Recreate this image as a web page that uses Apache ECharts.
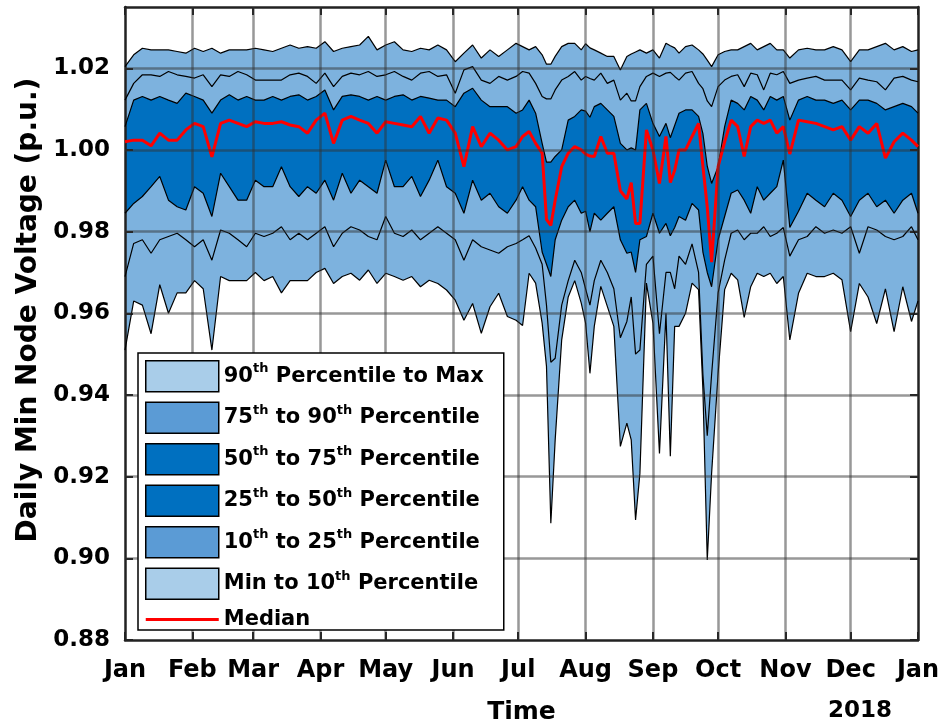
<!DOCTYPE html>
<html>
<head>
<meta charset="utf-8">
<title>Daily Min Node Voltage</title>
<script src="https://cdn.jsdelivr.net/npm/echarts@6/dist/echarts.min.js"></script>
<style>
  html, body { margin: 0; padding: 0; background: #fff; }
  #chart { width: 945px; height: 728px; }
</style>
</head>
<body>
<div id="chart"></div>
<script>
// day of year (0 = 1 Jan 2017), denser sampling in the Jul-Oct dips
const days = [
  0, 4, 8, 12, 16, 20, 24, 28, 32, 36, 40, 44, 48, 52, 56, 60, 64, 68, 72, 76, 80, 84, 88, 92,
  96, 100, 104, 108, 112, 116, 120, 124, 128, 132, 136, 140, 144, 148, 152, 156, 160, 164, 168, 172, 176, 180,
  183, 186, 189, 192, 194, 196, 198, 201, 204, 207, 210, 212, 214, 216, 219, 222, 225, 228, 231,
  233, 235, 237, 240, 243, 246, 249, 251, 253, 255, 258, 261, 264, 266, 268, 270,
  273, 276, 279, 282, 285, 288, 291, 294, 297, 300, 303,
  306, 310, 314, 318, 322, 326, 330, 334, 338, 342, 346, 350, 354, 358, 362, 365
];

const maxV = [
  1.0204, 1.0233, 1.0249, 1.0245, 1.0245, 1.0245, 1.0241, 1.0237, 1.0249, 1.0241, 1.0249, 1.0237, 1.0245, 1.0245, 1.0245, 1.0249, 1.0245, 1.0241, 1.0249, 1.0257, 1.0249, 1.0253, 1.0249, 1.0265,
  1.0241, 1.0249, 1.0253, 1.0257, 1.0278, 1.0245, 1.0257, 1.0265, 1.0245, 1.0241, 1.0249, 1.0245, 1.0257, 1.0245, 1.0216, 1.0237, 1.0257, 1.0225, 1.0245, 1.0229, 1.0245, 1.0261,
  1.0253, 1.0245, 1.0253, 1.0233, 1.021, 1.021, 1.0229, 1.0253, 1.0261, 1.0261, 1.0245, 1.026, 1.025, 1.0245, 1.0237, 1.0229, 1.0229, 1.0196, 1.0229,
  1.0235, 1.024, 1.0245, 1.0237, 1.0245, 1.0225, 1.0261, 1.0255, 1.025, 1.0237, 1.0253, 1.0257, 1.0245, 1.0235, 1.022, 1.0204,
  1.0233, 1.0241, 1.0245, 1.0245, 1.0253, 1.0261, 1.0245, 1.0253, 1.0261, 1.0245, 1.0245,
  1.0225, 1.0245, 1.0249, 1.0245, 1.0245, 1.0253, 1.0245, 1.0216, 1.0245, 1.0245, 1.0253, 1.0261, 1.0245, 1.0253, 1.0241, 1.0245
];

const p90V = [
  1.0122, 1.0163, 1.0184, 1.0184, 1.018, 1.0192, 1.0184, 1.018, 1.0176, 1.0184, 1.0155, 1.0184, 1.018, 1.0192, 1.0184, 1.0171, 1.0171, 1.0171, 1.0171, 1.0184, 1.0188, 1.018, 1.0163, 1.0188,
  1.0155, 1.018, 1.0188, 1.0184, 1.0192, 1.018, 1.0184, 1.0192, 1.018, 1.0171, 1.0188, 1.0192, 1.018, 1.0184, 1.0139, 1.0196, 1.0204, 1.0171, 1.0163, 1.018, 1.0171, 1.018,
  1.0192, 1.0188, 1.0163, 1.0131, 1.0125, 1.0125, 1.0147, 1.0171, 1.018, 1.0192, 1.0171, 1.018, 1.0175, 1.0171, 1.0188, 1.0163, 1.0171, 1.0122, 1.0139,
  1.012, 1.012, 1.0155, 1.018, 1.0188, 1.018, 1.0188, 1.019, 1.018, 1.0171, 1.0188, 1.0192, 1.0163, 1.015, 1.012, 1.0106,
  1.0155, 1.0171, 1.018, 1.0184, 1.0155, 1.0188, 1.0184, 1.0147, 1.0188, 1.0184, 1.0192,
  1.0163, 1.0171, 1.0176, 1.018, 1.0171, 1.0171, 1.0171, 1.0147, 1.0176, 1.0171, 1.0167, 1.0147, 1.0176, 1.018, 1.0171, 1.0167
];

const p75V = [
  1.0057, 1.0122, 1.0131, 1.0122, 1.0131, 1.0122, 1.0114, 1.0139, 1.0131, 1.0122, 1.009, 1.0122, 1.0135, 1.0122, 1.0131, 1.0122, 1.0122, 1.0131, 1.0122, 1.0131, 1.0135, 1.0122, 1.0131, 1.0147,
  1.0098, 1.0131, 1.0135, 1.0131, 1.0122, 1.0131, 1.0122, 1.0131, 1.0135, 1.0122, 1.0131, 1.0127, 1.0122, 1.0122, 1.0106, 1.0139, 1.0151, 1.0122, 1.0106, 1.0106, 1.0106, 1.009,
  1.0098, 1.0122, 1.009, 1.0016, 0.997, 0.997, 0.9984, 1.0, 1.0073, 1.0082, 1.0098, 1.0095, 1.008, 1.0106, 1.0114, 1.0098, 1.0082, 1.0016, 1.0,
  1.0005, 1.0, 1.0098, 1.0114, 1.0065, 1.0033, 1.0065, 1.003, 1.006, 1.009, 1.0098, 1.0098, 1.0082, 1.004, 0.996, 0.9918,
  0.9959, 1.0057, 1.0122, 1.0114, 1.0098, 1.0131, 1.0122, 1.0098, 1.0131, 1.0122, 1.0131,
  1.0073, 1.0122, 1.0131, 1.0122, 1.0122, 1.0114, 1.0122, 1.0098, 1.0122, 1.0122, 1.0114, 1.0098, 1.0106, 1.0114, 1.0106, 1.009
];

const medianV = [
  1.002, 1.0024, 1.0024, 1.001, 1.0041, 1.0024, 1.0024, 1.0049, 1.0065, 1.0057, 0.9983, 1.0065, 1.0073, 1.0065, 1.0057, 1.0069, 1.0065, 1.0065, 1.0069, 1.0061, 1.0057, 1.0041, 1.0073, 1.009,
  1.0016, 1.0073, 1.0082, 1.0073, 1.0065, 1.0041, 1.0069, 1.0065, 1.0061, 1.0057, 1.0082, 1.0041, 1.0078, 1.0073, 1.0041, 0.9959, 1.0057, 1.0008, 1.0041, 1.0024, 1.0, 1.0008,
  1.0033, 1.0045, 1.0016, 0.9992, 0.983, 0.9815, 0.9877, 0.9959, 0.9992, 1.0008, 1.0, 0.999, 0.9985, 0.9984, 1.0033, 0.9992, 0.9992, 0.99, 0.988,
  0.992, 0.982, 0.982, 1.0049, 1.0, 0.9918, 1.0033, 0.992, 0.995, 1.0, 1.0, 1.0033, 1.0065, 0.996, 0.986, 0.9725,
  0.9959, 1.002, 1.0073, 1.0057, 0.9984, 1.0057, 1.0073, 1.0065, 1.0073, 1.0041, 1.0057,
  0.999, 1.0073, 1.0069, 1.0065, 1.0057, 1.0049, 1.0057, 1.0024, 1.0057, 1.0041, 1.0065, 0.998, 1.002, 1.0041, 1.0024, 1.0008
];

const p25V = [
  0.9845, 0.9869, 0.9886, 0.991, 0.9935, 0.9877, 0.9861, 0.9853, 0.991, 0.9894, 0.9837, 0.9943, 0.991, 0.9877, 0.9877, 0.9926, 0.991, 0.991, 0.9959, 0.991, 0.9886, 0.991, 0.9894, 0.9926,
  0.9877, 0.9943, 0.9894, 0.9926, 0.991, 0.9894, 0.9975, 0.991, 0.991, 0.9935, 0.9886, 0.9926, 0.9975, 0.991, 0.9894, 0.9845, 0.9926, 0.9877, 0.9894, 0.9861, 0.9845, 0.9877,
  0.991, 0.9877, 0.9861, 0.975, 0.972, 0.969, 0.978, 0.9828, 0.9861, 0.9877, 0.9845, 0.985, 0.98, 0.9845, 0.9828, 0.9845, 0.9861, 0.978, 0.9747,
  0.975, 0.97, 0.978, 0.9788, 0.9845, 0.9796, 0.982, 0.979, 0.981, 0.9837, 0.9828, 0.9869, 0.9853, 0.975, 0.97, 0.9665,
  0.978, 0.9837, 0.9894, 0.9902, 0.9877, 0.9845, 0.991, 0.9877, 0.9894, 0.991, 0.9975,
  0.981, 0.985, 0.9894, 0.9877, 0.9861, 0.9894, 0.9877, 0.9837, 0.9877, 0.9894, 0.9861, 0.9877, 0.9845, 0.9877, 0.9894, 0.9845
];

const p10V = [
  0.969, 0.9771, 0.978, 0.9747, 0.978, 0.9788, 0.9796, 0.978, 0.9763, 0.978, 0.973, 0.9804, 0.9796, 0.978, 0.9763, 0.9796, 0.9788, 0.9796, 0.9812, 0.978, 0.9796, 0.978, 0.9796, 0.9812,
  0.9763, 0.9796, 0.9812, 0.9804, 0.9788, 0.978, 0.9837, 0.9796, 0.9788, 0.9804, 0.978, 0.9796, 0.9812, 0.9796, 0.978, 0.973, 0.978, 0.9763, 0.9755, 0.9747, 0.9763, 0.9771,
  0.978, 0.979, 0.976, 0.972, 0.962, 0.948, 0.949, 0.962, 0.968, 0.973, 0.97, 0.966, 0.962, 0.968, 0.973, 0.97, 0.966, 0.954, 0.958,
  0.964, 0.95, 0.951, 0.972, 0.974, 0.955, 0.97, 0.97, 0.966, 0.974, 0.972, 0.977, 0.97, 0.945, 0.93, 0.945,
  0.965, 0.973, 0.9796, 0.9804, 0.978, 0.9796, 0.9796, 0.9812, 0.9788, 0.9796, 0.981,
  0.974, 0.978, 0.9788, 0.9812, 0.9796, 0.9804, 0.9796, 0.9812, 0.9747, 0.9812, 0.9804, 0.9788, 0.978, 0.9788, 0.9812, 0.978
];

const minV = [
  0.951, 0.963, 0.962, 0.955, 0.967, 0.96, 0.965, 0.965, 0.968, 0.966, 0.951, 0.969, 0.968, 0.968, 0.968, 0.97, 0.968, 0.969, 0.965, 0.968, 0.968, 0.968, 0.97, 0.971,
  0.9673, 0.969, 0.9698, 0.9681, 0.9706, 0.9673, 0.9698, 0.969, 0.9681, 0.969, 0.9665, 0.9681, 0.9673, 0.9657, 0.9632, 0.9583, 0.9624, 0.9551, 0.9616, 0.9649, 0.9592, 0.9583,
  0.957, 0.9698, 0.9674, 0.9576, 0.947, 0.9086, 0.929, 0.9535, 0.964, 0.968, 0.9625, 0.9576, 0.9453, 0.9568, 0.9666, 0.9617, 0.9568, 0.9274, 0.9331,
  0.929, 0.9094, 0.9208, 0.9674, 0.9576, 0.9257, 0.96, 0.925, 0.9568, 0.9568, 0.96, 0.9674, 0.9658, 0.9413, 0.8996, 0.9208,
  0.9453, 0.9658, 0.9698, 0.9682, 0.959, 0.9665, 0.9698, 0.969, 0.9698, 0.9673, 0.969,
  0.9535, 0.9649, 0.9698, 0.969, 0.969, 0.9698, 0.9682, 0.9555, 0.9673, 0.964, 0.9575, 0.966, 0.9555, 0.9665, 0.958, 0.963
];

const monthStarts = [0, 31, 59, 90, 120, 151, 181, 212, 243, 273, 304, 334, 365];
const monthLabels = ['Jan', 'Feb', 'Mar', 'Apr', 'May', 'Jun', 'Jul', 'Aug', 'Sep', 'Oct', 'Nov', 'Dec', 'Jan'];
const yTicks = [0.88, 0.90, 0.92, 0.94, 0.96, 0.98, 1.00, 1.02];

const legendNames = [
  '90th Percentile to Max',
  '75th to 90th Percentile',
  '50th to 75th Percentile',
  '25th to 50th Percentile',
  '10th to 25th Percentile',
  'Min to 10th Percentile',
  'Median'
];
const legendColors = ['#a9cde9', '#5b9bd5', '#0070c0', '#0070c0', '#5b9bd5', '#a9cde9'];

const FONT = 'DejaVu Sans';
const LIGHT = '#7db2de';
const DARK = '#0070c0';
const GRID_LINE = { color: 'rgba(50, 50, 50, 0.5)', width: 2.5, type: 'solid' };
const AXIS_LINE = { color: '#222', width: 2.5 };

function pairs(vals) {
  return days.map((d, i) => [d, vals[i]]);
}

// "90th ..." -> rich text with a superscript "th"
function richName(name) {
  const parts = name.split(/(\d+)th/);
  let out = '';
  parts.forEach((p, i) => {
    if (!p) return;
    out += i % 2 === 1 ? '{b|' + p + '}{s|th}' : '{b|' + p + '}';
  });
  return out;
}

function band(name, vals, fill) {
  const s = {
    name: name,
    type: 'line',
    data: pairs(vals),
    symbol: 'none',
    silent: true,
    lineStyle: { color: '#000', width: 1.2 },
    itemStyle: { color: fill || '#000' }
  };
  if (fill) s.areaStyle = { color: fill, opacity: 1, origin: 'start' };
  return s;
}

const legendData = legendNames.map((n, i) => {
  if (i < legendColors.length) {
    return { name: n, icon: 'rect', itemStyle: { color: legendColors[i], borderColor: '#000', borderWidth: 1.5 } };
  }
  // thin red bar for the median line
  return { name: n, icon: 'path://M0,0 H73 V3 H0 Z', itemStyle: { color: '#ff0000', borderWidth: 0 } };
});

// grid drawn above the bands, as in the original figure
const gridMarks = monthStarts.slice(1, -1).map(v => ({ xAxis: v }))
  .concat(yTicks.slice(1).map(v => ({ yAxis: v })));

const labelFont = { fontFamily: FONT, fontWeight: 'bold', color: '#000' };

const chart = echarts.init(document.getElementById('chart'));

const option = {
  animation: false,
  backgroundColor: '#fff',
  grid: { left: 125, right: 27, top: 7, bottom: 88, containLabel: false, outerBoundsMode: 'none' },
  legend: {
    orient: 'vertical',
    left: 138,
    top: 353,
    itemWidth: 73,
    itemHeight: 31,
    itemGap: 9,
    padding: [7, 20, 0, 7],
    backgroundColor: '#fff',
    borderColor: '#000',
    borderWidth: 1.5,
    borderRadius: 0,
    selectedMode: false,
    symbolKeepAspect: true,
    z: 10,
    data: legendData,
    formatter: richName,
    textStyle: {
      color: '#000',
      rich: {
        b: { fontFamily: FONT, fontWeight: 'bold', fontSize: 21, lineHeight: 28, color: '#000' },
        s: { fontFamily: FONT, fontWeight: 'bold', fontSize: 13, lineHeight: 13, verticalAlign: 'top', color: '#000' }
      }
    }
  },
  xAxis: [
    {
      type: 'value',
      min: 0,
      max: 365,
      position: 'bottom',
      z: 3,
      axisLine: { show: true, onZero: false, lineStyle: AXIS_LINE },
      axisTick: { show: true, inside: true, length: 8, customValues: monthStarts, lineStyle: { color: '#222', width: 2 } },
      axisLabel: Object.assign({
        customValues: monthStarts,
        formatter: v => monthLabels[monthStarts.indexOf(Math.round(v))] || '',
        margin: 19,
        fontSize: 24
      }, labelFont),
      splitLine: { show: false },
      name: 'Time',
      nameLocation: 'middle',
      nameGap: 60,
      nameTextStyle: Object.assign({ fontSize: 25 }, labelFont)
    },
    {
      type: 'value',
      min: 0,
      max: 365,
      position: 'top',
      z: 3,
      axisLine: { show: true, onZero: false, lineStyle: AXIS_LINE },
      axisTick: { show: true, inside: true, length: 8, customValues: monthStarts, lineStyle: { color: '#222', width: 2 } },
      axisLabel: { show: false },
      splitLine: { show: false }
    }
  ],
  yAxis: [
    {
      type: 'value',
      min: 0.88,
      max: 1.035,
      position: 'left',
      z: 3,
      axisLine: { show: true, onZero: false, lineStyle: AXIS_LINE },
      axisTick: { show: true, inside: true, length: 8, customValues: yTicks, lineStyle: { color: '#222', width: 2 } },
      axisLabel: Object.assign({
        customValues: yTicks,
        formatter: v => v.toFixed(2),
        margin: 15,
        fontSize: 23
      }, labelFont),
      splitLine: { show: false }
    },
    {
      type: 'value',
      min: 0.88,
      max: 1.035,
      position: 'right',
      z: 3,
      axisLine: { show: true, onZero: false, lineStyle: AXIS_LINE },
      axisTick: { show: true, inside: true, length: 8, customValues: yTicks, lineStyle: { color: '#222', width: 2 } },
      axisLabel: { show: false },
      splitLine: { show: false }
    }
  ],
  graphic: [
    {
      type: 'text',
      x: 29,
      y: 310,
      rotation: Math.PI / 2,
      style: {
        text: 'Daily Min Node Voltage (p.u.)',
        fontFamily: FONT,
        fontWeight: 'bold',
        fontSize: 28,
        fill: '#000',
        align: 'center',
        verticalAlign: 'middle',
        textAlign: 'center',
        textVerticalAlign: 'middle'
      }
    },
    {
      type: 'text',
      x: 860,
      y: 711,
      style: {
        text: '2018',
        fontFamily: FONT,
        fontWeight: 'bold',
        fontSize: 23,
        fill: '#000',
        align: 'center',
        verticalAlign: 'middle',
        textAlign: 'center',
        textVerticalAlign: 'middle'
      }
    }
  ],
  series: [
    band(legendNames[0], maxV, LIGHT),
    band(legendNames[1], p90V, null),
    band(legendNames[2], p75V, DARK),
    band(legendNames[3], p25V, LIGHT),
    band(legendNames[4], p10V, null),
    band(legendNames[5], minV, '#ffffff'),
    {
      name: legendNames[6],
      type: 'line',
      data: pairs(medianV),
      symbol: 'none',
      silent: true,
      lineStyle: { color: '#ff0000', width: 3 },
      itemStyle: { color: '#ff0000' }
    },
    {
      name: 'grid',
      type: 'line',
      data: [],
      z: 4,
      silent: true,
      markLine: {
        silent: true,
        symbol: ['none', 'none'],
        label: { show: false },
        emphasis: { disabled: true },
        lineStyle: GRID_LINE,
        data: gridMarks
      }
    }
  ]
};

chart.setOption(option);
</script>
</body>
</html>
